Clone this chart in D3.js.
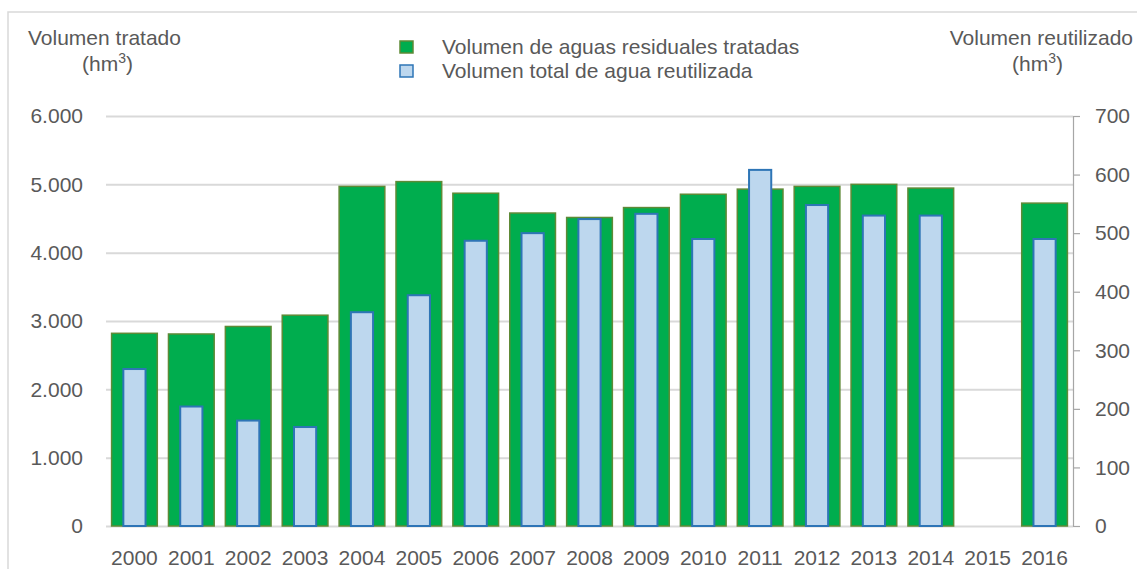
<!DOCTYPE html>
<html>
<head>
<meta charset="utf-8">
<script src="https://cdn.jsdelivr.net/npm/d3@7.9.0/dist/d3.min.js"></script>
<style>
  body { margin: 0; background: #fff; }
  svg text { font-family: "Liberation Sans", Arial, sans-serif; fill: #595959; }
</style>
</head>
<body>
<div id="chart"></div>
<script>
// data
const years = ["2000","2001","2002","2003","2004","2005","2006","2007","2008","2009","2010","2011","2012","2013","2014","2015","2016"];
const tratado = [2820, 2810, 2920, 3085, 4970, 5040, 4870, 4580, 4515, 4660, 4855, 4930, 4970, 5000, 4945, null, 4725];
const reutilizado = [268, 204, 180, 169, 365, 394, 487, 500, 524, 533, 490, 608, 548, 530, 530, null, 490];
const leftTicks = [0, 1000, 2000, 3000, 4000, 5000, 6000];
const rightTicks = [0, 100, 200, 300, 400, 500, 600, 700];

const width = 1137;
const height = 569;
const area = { left: 106, right: 1073, top: 116, bottom: 526 };
const fontSize = "21px";

const svg = d3.select("#chart")
    .append("svg")
    .attr("width", width)
    .attr("height", height);

// outer frame (only top & left edges are visible in the picture)
svg.append("path")
    .attr("d", `M8,${height + 2} V12 H${width + 2}`)
    .attr("fill", "none")
    .attr("stroke", "#d9d9d9")
    .attr("stroke-width", 1.5);

const esLocale = d3.formatLocale({ decimal: ",", thousands: ".", grouping: [3], currency: ["", ""] });
const fmt = esLocale.format(",");

// scales
const x = d3.scaleBand()
    .domain(years)
    .range([area.left, area.right])
    .paddingInner(0.17)
    .paddingOuter(0.085);

const yLeft = d3.scaleLinear().domain([0, 6000]).range([area.bottom, area.top]);
const yRight = d3.scaleLinear().domain([0, 700]).range([area.bottom, area.top]);

// gridlines
const grid = svg.append("g")
    .attr("transform", `translate(${area.left},0)`)
    .call(d3.axisLeft(yLeft).tickValues(leftTicks).tickFormat("").tickSize(-(area.right - area.left)));
grid.select(".domain").remove();
grid.selectAll("line").attr("stroke", "#d9d9d9").attr("stroke-width", 2);

// left axis labels
const leftAxis = svg.append("g")
    .attr("transform", `translate(${area.left - 23},0)`)
    .call(d3.axisLeft(yLeft).tickValues(leftTicks).tickFormat(fmt).tickSize(0).tickPadding(0));
leftAxis.select(".domain").remove();
leftAxis.selectAll("text").style("font-size", fontSize).attr("fill", "#595959");

// right axis
const rightAxis = svg.append("g")
    .attr("transform", `translate(${area.right},0)`)
    .call(d3.axisRight(yRight).tickValues(rightTicks).tickSize(7).tickPadding(15).tickSizeOuter(0));
rightAxis.select(".domain").attr("stroke", "#a6a6a6").attr("stroke-width", 1.2);
rightAxis.selectAll("line").attr("stroke", "#a6a6a6").attr("stroke-width", 1.2);
rightAxis.selectAll("text").style("font-size", fontSize).attr("fill", "#595959");

// x axis labels
const xAxis = svg.append("g")
    .attr("transform", `translate(0,${area.bottom})`)
    .call(d3.axisBottom(x).tickSize(0).tickPadding(24));
xAxis.select(".domain").remove();
xAxis.selectAll("text").style("font-size", fontSize).attr("fill", "#595959");

// green bars: treated volume
svg.append("g")
    .selectAll("rect")
    .data(years.map((y, i) => ({ year: y, v: tratado[i] })).filter(d => d.v != null))
    .join("rect")
    .attr("x", d => x(d.year) + 0.75)
    .attr("y", d => yLeft(d.v))
    .attr("width", x.bandwidth() - 1.5)
    .attr("height", d => yLeft(0) - yLeft(d.v))
    .attr("fill", "#00AD4E")
    .attr("stroke", "#5E8A36")
    .attr("stroke-width", 1.5);

// blue bars: reused volume
const blueW = x.bandwidth() * 0.47;
svg.append("g")
    .selectAll("rect")
    .data(years.map((y, i) => ({ year: y, v: reutilizado[i] })).filter(d => d.v != null))
    .join("rect")
    .attr("x", d => x(d.year) + (x.bandwidth() - blueW) / 2)
    .attr("y", d => yRight(d.v))
    .attr("width", blueW)
    .attr("height", d => yRight(0) - yRight(d.v))
    .attr("fill", "#BDD7EE")
    .attr("stroke", "#2E75B6")
    .attr("stroke-width", 2);

// axis titles
function unitLabel(xPos, anchor) {
    const t = svg.append("text")
        .attr("x", xPos).attr("y", 71)
        .attr("text-anchor", anchor)
        .style("font-size", fontSize);
    t.append("tspan").text("(hm");
    t.append("tspan").attr("dy", -8).style("font-size", "14px").text("3");
    t.append("tspan").attr("dy", 8).text(")");
}
svg.append("text").attr("x", 28).attr("y", 45).style("font-size", fontSize).text("Volumen tratado");
unitLabel(82, "start");
svg.append("text").attr("x", 1133).attr("y", 45).attr("text-anchor", "end").style("font-size", fontSize).text("Volumen reutilizado");
unitLabel(1063, "end");

// legend
const legendItems = [
    { label: "Volumen de aguas residuales tratadas", fill: "#00AD4E", stroke: "#5E8A36" },
    { label: "Volumen total de agua reutilizada", fill: "#BDD7EE", stroke: "#2E75B6" }
];
const legend = svg.append("g").attr("transform", "translate(400,41)");
legend.selectAll("g")
    .data(legendItems)
    .join("g")
    .attr("transform", (d, i) => `translate(0,${i * 24})`)
    .each(function(d) {
        const g = d3.select(this);
        g.append("rect").attr("width", 13).attr("height", 12).attr("fill", d.fill).attr("stroke", d.stroke).attr("stroke-width", 1.5);
        g.append("text").attr("x", 42).attr("y", 13).style("font-size", fontSize).text(d.label);
    });
</script>
</body>
</html>
